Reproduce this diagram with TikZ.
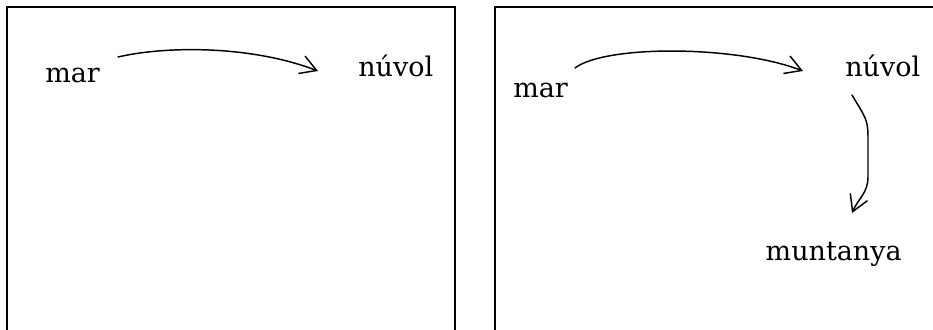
\documentclass[tikz,border=0pt]{standalone}
\usepackage{fontspec}
\setmainfont{DejaVu Serif}
\usepackage{tikz}
\usetikzlibrary{calc,arrows.meta}

\begin{document}
\begin{tikzpicture}[
        x=0.75pt, y=-0.75pt,
        % Style for the words
        word/.style={
            inner sep=0pt,
            anchor=base west,
            font=\fontsize{20.25}{24}\selectfont
        },
        % Style for the frames
        frame/.style={
            draw=black,
            line width=1.7pt
        },
        % Style for the hand-drawn arrows
        flow/.style={
            draw=black,
            line width=1.1pt,
            line cap=round,
            line join=round,
            -{Straight Barb[length=12pt,width=14pt]}
        }
    ]

        \useasboundingbox (0,0) rectangle (933,329);
        \clip (0,0) rectangle (933,329);

        % --- FRAMES ---
        \draw[frame] (7,345) -- (7,7) -- (455,7) -- (455,345);
        \draw[frame] (495,345) -- (495,7) -- (945,7);

        % --- LEFT PANEL ---
        \node[word] (mar1) at (45,82) {mar};
        \node[word] (nuvol1) at (358,76) {núvol};

        \draw[flow] ($(mar1.base west)+(73,-25)$) .. controls +(47,-11) and +(-68,-26) .. ($(nuvol1.base west)+(-40,-5)$);

        % --- RIGHT PANEL ---
        \node[word] (mar2) at (513,97) {mar};
        \node[word] (nuvol2) at (845,76) {núvol};
        \node[word, anchor=base east] (munt) at (902,260) {muntanya};

        \draw[flow] ($(mar2.base west)+(62,-29)$) .. controls +(30,-23) and +(-68,-26) .. ($(nuvol2.base west)+(-42,-5)$);

        \draw[flow] ($(nuvol2.base west)+(7,19)$) .. controls +(13,22) and +(0,-18) .. ++(16,42) -- ++(0,40) .. controls +(0,16) and +(6,-14) .. ($(munt.base east)+(-50,-47)$);

    \end{tikzpicture}
\end{document}
